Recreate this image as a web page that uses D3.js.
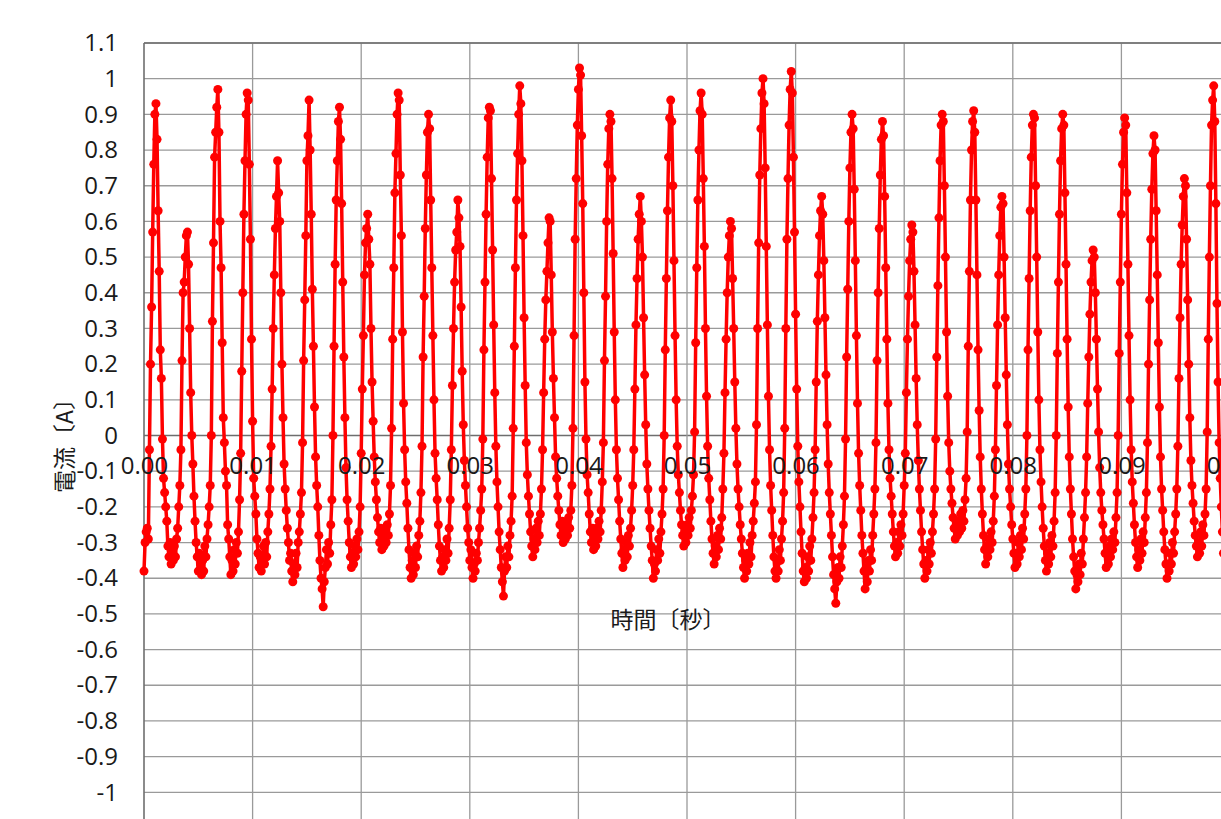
<!DOCTYPE html>
<html>
<head>
<meta charset="utf-8">
<script src="https://cdn.jsdelivr.net/npm/d3@7"></script>
<style>
  body { margin: 0; background: #fff; overflow: hidden; }
  text { font-family: "Open Sans", "Noto Sans CJK JP", sans-serif; }
</style>
</head>
<body>
<script>
const sampleInterval = 0.0001;

const seg1 = [
  -0.38, -0.30, -0.27, -0.26, -0.29,
  -0.04, 0.20, 0.36, 0.57, 0.76, 0.90, 0.93, 0.83, 0.63, 0.46, 0.24, 0.16, -0.01, -0.12,
  -0.16, -0.20, -0.24, -0.31, -0.34, -0.30, -0.36, -0.33, -0.35, -0.31, -0.34, -0.29, -0.26, -0.20, -0.14,
  -0.04, 0.21, 0.40, 0.43, 0.50, 0.56, 0.57, 0.48, 0.30, 0.12, 0.00, -0.08, -0.17, -0.24,
  -0.30, -0.34, -0.38, -0.33, -0.36, -0.39, -0.35, -0.38, -0.31, -0.34, -0.29, -0.25, -0.20, -0.14,
  0.00, 0.32, 0.54, 0.78, 0.85, 0.92, 0.97, 0.85, 0.60, 0.47, 0.26, 0.05, -0.02, -0.10,
  -0.14, -0.25, -0.29, -0.34, -0.39, -0.35, -0.38, -0.32, -0.36, -0.30, -0.33, -0.27, -0.18,
  -0.05, 0.18, 0.40, 0.62, 0.77, 0.90, 0.96, 0.94, 0.76, 0.55, 0.27, 0.04, -0.12, -0.17,
  -0.22, -0.29, -0.33, -0.37, -0.34, -0.38, -0.35, -0.31, -0.36, -0.30, -0.34, -0.27, -0.22, -0.15
];
const seg2 = [
  -0.03, 0.13, 0.30, 0.45, 0.58, 0.67, 0.77, 0.68, 0.60, 0.40, 0.20, 0.05, -0.08, -0.15,
  -0.21, -0.26, -0.30, -0.35, -0.33, -0.38, -0.41, -0.36, -0.39, -0.33, -0.37, -0.30, -0.27, -0.22, -0.16,
  -0.02, 0.21, 0.38, 0.56, 0.77, 0.84, 0.94, 0.80, 0.62, 0.41, 0.25, 0.08, -0.06, -0.14,
  -0.20, -0.28, -0.35, -0.40, -0.43, -0.48, -0.41, -0.37, -0.32, -0.36, -0.30, -0.33, -0.25, -0.18,
  0.00, 0.25, 0.48, 0.66, 0.77, 0.88, 0.92, 0.83, 0.65, 0.43, 0.22, 0.05, -0.09, -0.18,
  -0.24, -0.30, -0.34, -0.37, -0.33, -0.36, -0.31, -0.34, -0.29, -0.32, -0.27, -0.20,
  -0.05, 0.13, 0.28, 0.45, 0.54, 0.58, 0.62, 0.55, 0.48, 0.30, 0.15, 0.04, -0.06, -0.13,
  -0.18, -0.23, -0.27, -0.30, -0.26, -0.32, -0.29, -0.31, -0.27, -0.30, -0.25, -0.28, -0.22, -0.14
];
const seg3 = [
  0.02, 0.27, 0.47, 0.68, 0.79, 0.90, 0.96, 0.94, 0.73, 0.56, 0.29, 0.09, -0.04, -0.13,
  -0.19, -0.26, -0.32, -0.37, -0.40, -0.35, -0.39, -0.33, -0.37, -0.31, -0.34, -0.28, -0.24, -0.16,
  -0.03, 0.22, 0.39, 0.58, 0.73, 0.85, 0.90, 0.86, 0.66, 0.47, 0.28, 0.10, -0.05, -0.12,
  -0.18, -0.25, -0.31, -0.35, -0.38, -0.34, -0.37, -0.32, -0.35, -0.29, -0.33, -0.26, -0.18,
  -0.04, 0.14, 0.30, 0.43, 0.52, 0.57, 0.66, 0.61, 0.53, 0.36, 0.18, 0.03, -0.07, -0.14,
  -0.20, -0.26, -0.30, -0.35, -0.32, -0.37, -0.40, -0.36, -0.38, -0.33, -0.35, -0.30, -0.26, -0.21, -0.15,
  -0.01, 0.24, 0.43, 0.62, 0.78, 0.89, 0.92, 0.91, 0.72, 0.52, 0.31, 0.12, -0.03, -0.13,
  -0.20, -0.27, -0.32, -0.37, -0.41, -0.45, -0.38, -0.34, -0.37, -0.31, -0.34, -0.28, -0.24, -0.17
];
const seg4 = [
  0.02, 0.25, 0.47, 0.66, 0.79, 0.90, 0.98, 0.93, 0.77, 0.56, 0.33, 0.14, -0.02, -0.11,
  -0.17, -0.22, -0.27, -0.31, -0.34, -0.29, -0.32, -0.26, -0.30, -0.24, -0.28, -0.22, -0.15,
  -0.04, 0.12, 0.27, 0.38, 0.46, 0.54, 0.61, 0.60, 0.45, 0.29, 0.16, 0.05, -0.06, -0.12,
  -0.17, -0.21, -0.25, -0.28, -0.24, -0.30, -0.27, -0.29, -0.25, -0.28, -0.23, -0.26, -0.21, -0.14,
  0.02, 0.28, 0.55, 0.72, 0.87, 0.97, 1.03, 1.01, 0.84, 0.65, 0.40, 0.15, -0.01, -0.11,
  -0.16, -0.22, -0.27, -0.30, -0.26, -0.32, -0.28, -0.31, -0.26, -0.29, -0.24, -0.27, -0.21, -0.13,
  -0.02, 0.21, 0.39, 0.60, 0.76, 0.86, 0.90, 0.88, 0.72, 0.51, 0.29, 0.10, -0.04, -0.12,
  -0.18, -0.24, -0.29, -0.33, -0.37, -0.32, -0.35, -0.30, -0.34, -0.28, -0.31, -0.26, -0.21, -0.14
];
const seg5 = [
  -0.04, 0.13, 0.31, 0.44, 0.55, 0.62, 0.67, 0.60, 0.50, 0.33, 0.17, 0.03, -0.08, -0.15,
  -0.21, -0.26, -0.31, -0.35, -0.40, -0.36, -0.38, -0.32, -0.35, -0.29, -0.33, -0.27, -0.22, -0.15,
  0.00, 0.24, 0.44, 0.63, 0.78, 0.89, 0.94, 0.88, 0.70, 0.49, 0.28, 0.10, -0.03, -0.11,
  -0.16, -0.21, -0.25, -0.28, -0.31, -0.27, -0.30, -0.25, -0.28, -0.23, -0.26, -0.21, -0.17, -0.11,
  0.01, 0.26, 0.47, 0.66, 0.80, 0.91, 0.96, 0.90, 0.72, 0.53, 0.30, 0.11, -0.03, -0.12,
  -0.18, -0.24, -0.29, -0.33, -0.36, -0.31, -0.34, -0.28, -0.32, -0.26, -0.29, -0.23, -0.15,
  -0.05, 0.12, 0.27, 0.40, 0.50, 0.56, 0.60, 0.58, 0.44, 0.30, 0.15, 0.02, -0.08, -0.15,
  -0.20, -0.25, -0.29, -0.33, -0.37, -0.40, -0.35, -0.38, -0.33, -0.36, -0.30, -0.34, -0.28, -0.24, -0.19, -0.13
];
const seg6 = [
  0.03, 0.30, 0.54, 0.73, 0.86, 0.96, 1.00, 0.93, 0.75, 0.53, 0.31, 0.11, -0.04, -0.14,
  -0.21, -0.28, -0.34, -0.38, -0.40, -0.35, -0.38, -0.32, -0.35, -0.29, -0.24, -0.16,
  0.02, 0.30, 0.55, 0.72, 0.87, 0.97, 1.02, 0.96, 0.78, 0.57, 0.34, 0.13, -0.03, -0.13,
  -0.20, -0.27, -0.33, -0.38, -0.41, -0.37, -0.40, -0.34, -0.38, -0.31, -0.35, -0.29, -0.23, -0.16,
  -0.04, 0.15, 0.32, 0.45, 0.56, 0.63, 0.67, 0.62, 0.49, 0.33, 0.17, 0.03, -0.08, -0.16,
  -0.22, -0.28, -0.34, -0.39, -0.43, -0.47, -0.41, -0.37, -0.40, -0.34, -0.37, -0.31, -0.25, -0.17,
  -0.01, 0.22, 0.41, 0.60, 0.75, 0.85, 0.90, 0.86, 0.69, 0.49, 0.28, 0.09, -0.05, -0.14,
  -0.21, -0.28, -0.33, -0.38, -0.43, -0.37, -0.41, -0.35, -0.38, -0.32, -0.35, -0.28, -0.22, -0.15
];
const seg7 = [
  -0.02, 0.21, 0.40, 0.58, 0.73, 0.83, 0.88, 0.84, 0.67, 0.47, 0.27, 0.09, -0.04, -0.12,
  -0.17, -0.22, -0.27, -0.31, -0.34, -0.30, -0.33, -0.27, -0.31, -0.25, -0.28, -0.22, -0.14,
  -0.05, 0.12, 0.27, 0.39, 0.49, 0.55, 0.59, 0.57, 0.46, 0.31, 0.16, 0.03, -0.07, -0.15,
  -0.21, -0.27, -0.32, -0.36, -0.40, -0.35, -0.38, -0.32, -0.36, -0.30, -0.33, -0.27, -0.22, -0.15,
  -0.01, 0.22, 0.42, 0.61, 0.77, 0.87, 0.90, 0.88, 0.70, 0.50, 0.29, 0.11, -0.02, -0.10,
  -0.15, -0.19, -0.23, -0.26, -0.29, -0.25, -0.28, -0.24, -0.27, -0.22, -0.26, -0.21, -0.24, -0.18, -0.12,
  0.01, 0.25, 0.46, 0.66, 0.80, 0.88, 0.91, 0.85, 0.66, 0.45, 0.24, 0.07, -0.06, -0.15,
  -0.22, -0.28, -0.32, -0.36, -0.31, -0.34, -0.29, -0.32, -0.27, -0.30, -0.24, -0.17
];
const seg8 = [
  -0.04, 0.14, 0.31, 0.45, 0.56, 0.64, 0.67, 0.65, 0.50, 0.33, 0.17, 0.03, -0.08, -0.15,
  -0.20, -0.25, -0.29, -0.33, -0.37, -0.33, -0.36, -0.30, -0.34, -0.28, -0.32, -0.26, -0.29, -0.22, -0.15,
  0.00, 0.24, 0.44, 0.63, 0.78, 0.87, 0.90, 0.89, 0.70, 0.50, 0.29, 0.10, -0.04, -0.13,
  -0.20, -0.26, -0.31, -0.35, -0.38, -0.33, -0.36, -0.30, -0.34, -0.28, -0.31, -0.24, -0.16,
  0.00, 0.23, 0.43, 0.62, 0.77, 0.86, 0.90, 0.87, 0.68, 0.48, 0.27, 0.08, -0.06, -0.15,
  -0.22, -0.29, -0.34, -0.38, -0.43, -0.39, -0.41, -0.36, -0.39, -0.33, -0.36, -0.29, -0.23, -0.16,
  -0.06, 0.09, 0.22, 0.34, 0.43, 0.49, 0.52, 0.50, 0.40, 0.27, 0.13, 0.01, -0.09, -0.16,
  -0.21, -0.25, -0.29, -0.33, -0.37, -0.33, -0.36, -0.31, -0.34, -0.29, -0.32, -0.27, -0.30, -0.23, -0.16
];
const seg9 = [
  0.00, 0.23, 0.43, 0.62, 0.76, 0.85, 0.89, 0.87, 0.68, 0.48, 0.28, 0.10, -0.04, -0.13,
  -0.19, -0.25, -0.30, -0.34, -0.37, -0.32, -0.35, -0.29, -0.33, -0.27, -0.30, -0.23, -0.16,
  -0.02, 0.20, 0.38, 0.55, 0.69, 0.79, 0.84, 0.80, 0.63, 0.45, 0.26, 0.08, -0.06, -0.15,
  -0.21, -0.27, -0.32, -0.36, -0.40, -0.36, -0.38, -0.33, -0.36, -0.30, -0.33, -0.27, -0.22, -0.15,
  -0.03, 0.16, 0.33, 0.48, 0.59, 0.67, 0.72, 0.70, 0.55, 0.38, 0.20, 0.05, -0.07, -0.14,
  -0.19, -0.24, -0.28, -0.31, -0.34, -0.30, -0.33, -0.27, -0.31, -0.25, -0.28, -0.22, -0.15,
  0.01, 0.27, 0.50, 0.70, 0.87, 0.94, 0.98, 0.88, 0.65, 0.37, 0.15, -0.02, -0.12, -0.20, -0.27, -0.33
];

const yTicks = [1.1, 1, 0.9, 0.8, 0.7, 0.6, 0.5, 0.4, 0.3, 0.2, 0.1, 0,
  -0.1, -0.2, -0.3, -0.4, -0.5, -0.6, -0.7, -0.8, -0.9, -1, -1.1];
const xTicks = [0, 0.01, 0.02, 0.03, 0.04, 0.05, 0.06, 0.07, 0.08, 0.09, 0.1];
const xTitle = "時間〔秒〕";
const yTitle = "電流〔A〕";

const current = [].concat(seg1, seg2, seg3, seg4, seg5, seg6, seg7, seg8, seg9);
const data = current.map((v, i) => ({ t: i * sampleInterval, v: v }));

let width = 1221,
    height = 819;

let svg = d3.select('body')
  .append('svg')
    .attr('width', width)
    .attr('height', height);

let xScale = d3.scaleLinear()
  .domain([0, 0.1])
  .range([144, 1230]);

let yScale = d3.scaleLinear()
  .domain([-1.1, 1.1])
  .range([828, 43]);

// grid
svg.append('g')
  .selectAll('line')
  .data(yTicks)
  .enter()
  .append('line')
    .attr('x1', xScale(0))
    .attr('x2', width)
    .attr('y1', d => yScale(d))
    .attr('y2', d => yScale(d))
    .attr('stroke', d => d === 0 ? '#6e6e6e' : '#9a9a9a')
    .attr('stroke-width', 1.3);

svg.append('g')
  .selectAll('line')
  .data(xTicks)
  .enter()
  .append('line')
    .attr('x1', d => xScale(d))
    .attr('x2', d => xScale(d))
    .attr('y1', yScale(1.1))
    .attr('y2', height)
    .attr('stroke', d => d === 0 ? '#6e6e6e' : '#9a9a9a')
    .attr('stroke-width', d => d === 0 ? 1.6 : 1.3);

// top border of the plot area
svg.append('line')
  .attr('x1', xScale(0)).attr('x2', width)
  .attr('y1', yScale(1.1)).attr('y2', yScale(1.1))
  .attr('stroke', '#6e6e6e')
  .attr('stroke-width', 1.4);

// y axis labels
let yAxis = svg.append('g')
  .attr('transform', `translate(${xScale(0)},0)`)
  .call(d3.axisLeft(yScale).tickValues(yTicks).tickSize(0).tickPadding(26).tickFormat(d => String(d)));
yAxis.select('.domain').remove();
yAxis.selectAll('text')
  .style('font-family', '"Open Sans", sans-serif')
  .style('font-size', '24px')
  .attr('fill', '#1a1a1a');

// series
let line = d3.line()
  .x(d => xScale(d.t))
  .y(d => yScale(d.v));

svg.append('path')
  .datum(data)
  .attr('fill', 'none')
  .attr('stroke', '#ff0000')
  .attr('stroke-width', 3.5)
  .attr('stroke-linejoin', 'round')
  .attr('d', line);

svg.append('g')
  .selectAll('circle')
  .data(data)
  .enter()
  .append('circle')
    .attr('cx', d => xScale(d.t))
    .attr('cy', d => yScale(d.v))
    .attr('r', 4.5)
    .attr('fill', '#ff0000');

// x axis labels sit on the zero line, drawn above the series
let xAxis = svg.append('g')
  .attr('transform', `translate(0,${yScale(0)})`)
  .call(d3.axisBottom(xScale).tickValues(xTicks).tickSize(0).tickPadding(21).tickFormat(d3.format('.2f')));
xAxis.select('.domain').remove();
xAxis.selectAll('text')
  .style('font-family', '"Open Sans", sans-serif')
  .style('font-size', '24px')
  .attr('fill', '#1a1a1a');

// titles
svg.append('text')
  .attr('x', 668)
  .attr('y', 628)
  .attr('text-anchor', 'middle')
  .style('font-family', '"Noto Sans CJK JP", sans-serif')
  .style('font-size', '23px')
  .attr('fill', '#1a1a1a')
  .text(xTitle);

svg.append('text')
  .attr('transform', 'translate(73,440) rotate(-90)')
  .attr('text-anchor', 'middle')
  .style('font-family', '"Noto Sans CJK JP", sans-serif')
  .style('font-size', '23px')
  .attr('fill', '#1a1a1a')
  .text(yTitle);
</script>
</body>
</html>
